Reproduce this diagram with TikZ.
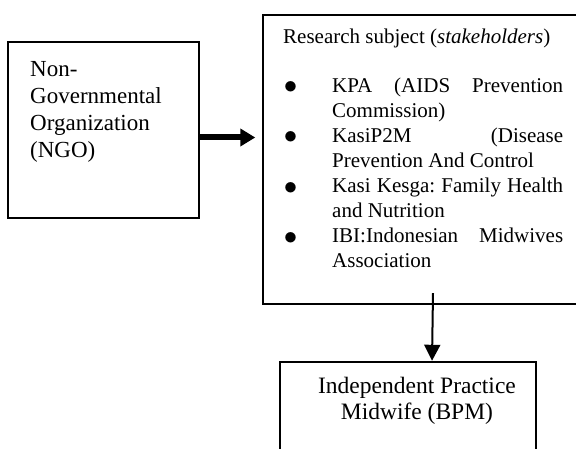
\documentclass[tikz,border=0pt]{standalone}
\usepackage{fontspec}
\setmainfont{Liberation Serif}
\usetikzlibrary{arrows.meta}

\newcommand{\stakeitem}[1]{{\leftskip=49pt\noindent\llap{\raisebox{-1.6pt}{\scalebox{1.3}{$\bullet$}}\hskip34.8pt}#1\par}}

\begin{document}
\begin{tikzpicture}[x=1pt,y=-1pt,
	boxline/.style={line width=1.8pt},
	boxtext/.style={inner sep=0pt},
	fatarrow/.style={line width=6pt,-{Triangle[length=15pt,width=17pt]}},
	thinarrow/.style={line width=2pt,-{Triangle[length=16pt,width=16pt]}}]
	\useasboundingbox (0,0) rectangle (576,449);
	% boxes
	\node [boxline,draw,inner sep=0pt,minimum width=191pt,minimum height=176pt] (ngo) at (103.8,130.2) {};
	\node [inner sep=0pt,minimum width=313pt,minimum height=289pt] (subject) at (419.5,159.5) {};
	\node [inner sep=0pt,minimum width=256pt,minimum height=87pt] (bpm) at (408,405.5) {};
	\draw [boxline] (subject.north east) -- (subject.north west) -- (subject.south west) -- (subject.south east);
	\draw [boxline] (bpm.south west) |- (bpm.north east) -- (bpm.south east);
	% texts
	\node [boxtext,align=left,anchor=north west,font=\fontsize{23}{27}\selectfont] (ngotext) at (30,61) {Non-\\Governmental\\Organization\\(NGO)};
	\node [boxtext,text width=280pt,align=justify,anchor=north west,font=\fontsize{21}{25.1}\selectfont] (subjtext) at (283,28.4) {%
		\tolerance=10000 \hyphenpenalty=10000 \parskip=0pt \frenchspacing
		\noindent Research subject (\textit{stakeholders})\par\vspace{23.9pt}
		\stakeitem{KPA (AIDS Prevention\linebreak Commission)}
		\stakeitem{KasiP2M (Disease\linebreak Prevention And Control}
		\stakeitem{Kasi Kesga: Family Health\linebreak and Nutrition}
		\stakeitem{IBI:Indonesian Midwives\linebreak Association}};
	\node [boxtext,align=center,anchor=north,font=\fontsize{23.5}{26}\selectfont] (bpmtext) at (417,377) {Independent Practice\\Midwife (BPM)};
	% arrows
	\coordinate (ngoout) at ([yshift=-7.3pt]ngo.east);
	\coordinate (subjout) at ([xshift=13.5pt,yshift=11pt]subject.south);
	\coordinate (bpmin) at ([xshift=24pt,yshift=1pt]bpm.north);
	\draw [fatarrow,shorten >=7.5pt] (ngoout) -- (ngoout -| subject.west);
	\draw [thinarrow] (subjout) -- (bpmin);
\end{tikzpicture}
\end{document}
